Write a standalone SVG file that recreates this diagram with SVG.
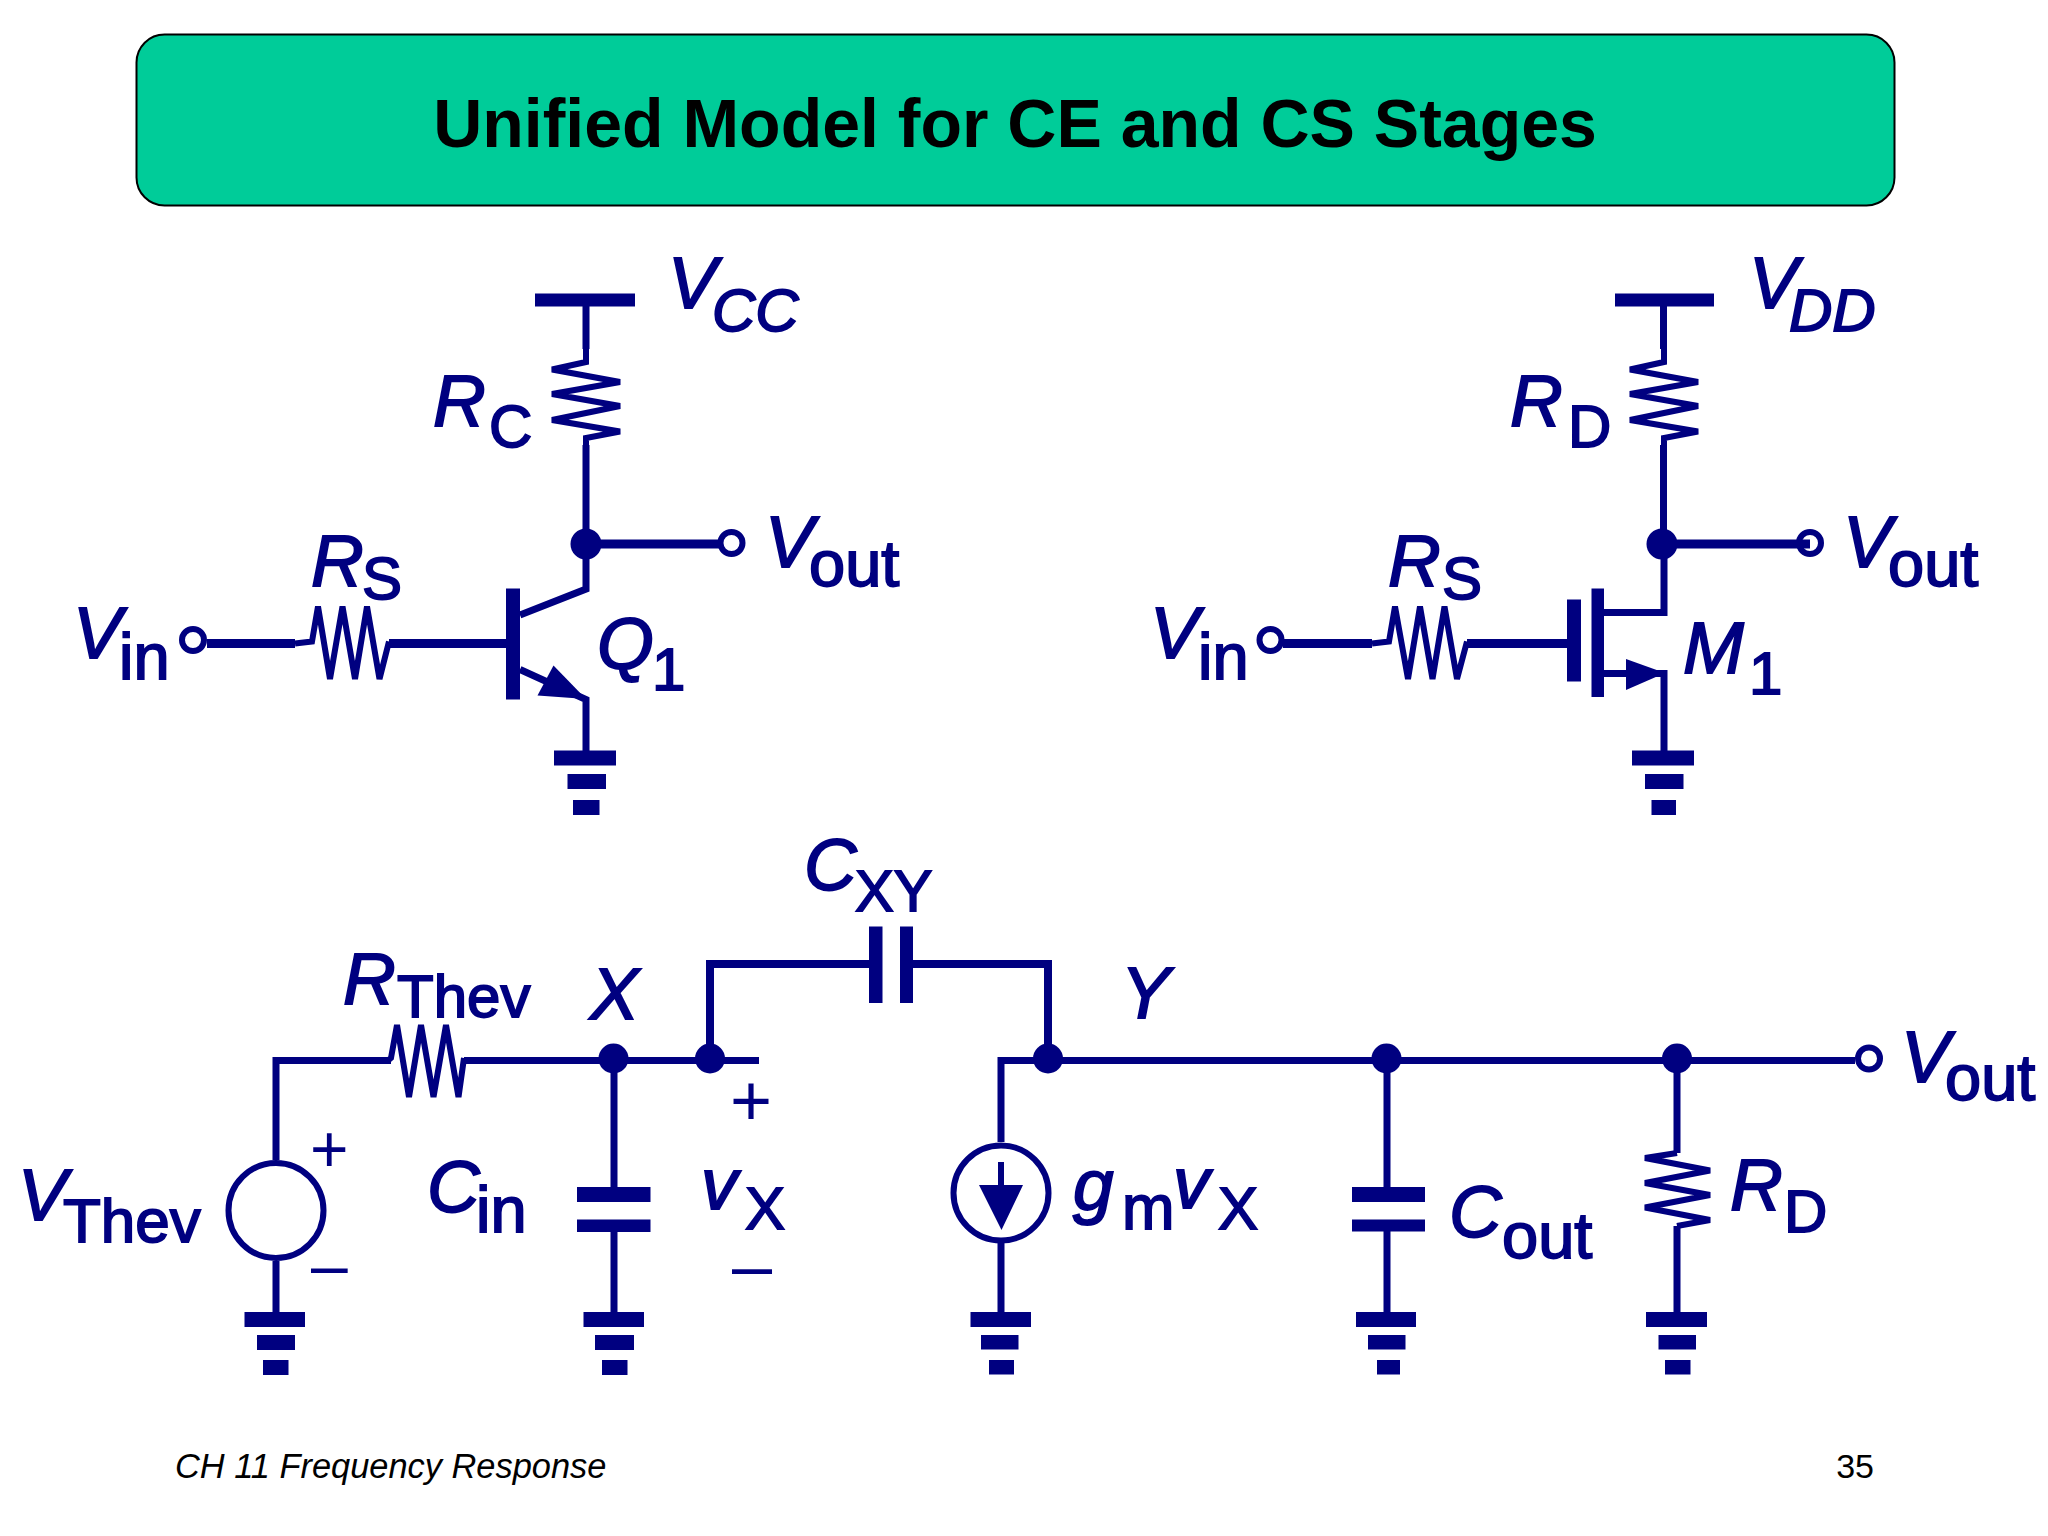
<svg xmlns="http://www.w3.org/2000/svg" width="2048" height="1536" viewBox="0 0 2048 1536">
<style>
.w{fill:none;stroke:#000080;stroke-width:7;stroke-linejoin:miter}
.t{stroke-width:9}
.b{stroke-width:8}
.r{fill:none;stroke:#000080;stroke-width:6;stroke-linejoin:miter}
.f{fill:#000080;stroke:none}
.o{fill:#fff;stroke:#000080;stroke-width:6}
text{font-family:"Liberation Sans",Arial,sans-serif}
.l{fill:#000080;stroke:#000080;stroke-width:1.800;font-size:73px;font-style:italic}
.s{font-style:normal;font-size:60px}
.lc{font-style:normal;font-size:65px}
.i{font-size:60px}
.sg{fill:#000080;font-size:66px}
</style>
<rect width="2048" height="1536" fill="#fff"/>
<g id="title"><rect x="136.500" y="34.500" width="1758" height="171" rx="28" fill="#00CC99" stroke="#000" stroke-width="2"/>
<text x="1015" y="147" text-anchor="middle" font-size="68" font-weight="700" fill="#000">Unified Model for CE and CS Stages</text></g>

<g id="connectors">
<!-- CE stage -->
<path class="w" d="M586 306V349M586 445V544M586 544V589L520 615M520 669.500L586 699.500V751"/>
<path class="w t" d="M586 544H720M207 643.500H295M389 643.500H507"/>
<!-- CS stage -->
<path class="w" d="M1663.500 306V349M1663.500 445V544M1664 544V612.500H1604M1604 673.500H1664V751"/>
<path class="w t" d="M1662 544H1806M1283 643.500H1372M1467 643.500H1567"/>
<!-- model -->
<path class="w" d="M276 1160V1060.500H391M464 1060.500H759M276 1261V1312M614 1060V1187M614 1232V1312M1001 1142V1060.500H1048M1001 1243V1312M1387 1060V1187M1387 1231V1312M1677 1060V1153M1677 1226V1312M1048 1060.500H1855"/>
<path class="w b" d="M710 1060V964H870M913 964H1048V1060"/>
</g>

<g id="vcc"><rect class="f" x="535" y="293.500" width="100" height="13"/><text class="l"><tspan x="668" y="308">V</tspan><tspan class="i" x="712" y="331">CC</tspan></text></g>
<g id="rc"><path class="r" d="M586 349V362L552 369.500L620 382L552 394L620 406L552 420L620 431.500L586 438V445"/><text class="l"><tspan x="433" y="425.500">R</tspan><tspan class="s" x="489" y="447">C</tspan></text></g>
<g id="node-ce"><circle class="f" cx="586" cy="544" r="15.500"/></g>
<g id="vout-ce"><circle class="o" cx="731.500" cy="543" r="11"/><text class="l"><tspan x="765" y="567">V</tspan><tspan class="lc" x="809" y="585.500">out</tspan></text></g>
<g id="vin-ce"><circle class="o" cx="193" cy="640" r="11"/><text class="l"><tspan x="73" y="658">V</tspan><tspan class="lc" x="119" y="679">in</tspan></text></g>
<g id="rs-ce"><path class="r" d="M295 643.500L312 641.500L318 606.500L330 679L342.500 606.500L355 679L367 606.500L379.500 679L389 641.500"/><text class="l"><tspan x="311" y="585.500">R</tspan><tspan class="s" x="362" y="598.500">S</tspan></text></g>
<g id="q1"><rect class="f" x="506" y="588.500" width="14" height="111"/><path class="f" d="M586 699L553.500 665.500L537.500 695.500Z"/><text class="l"><tspan x="597" y="668.500">Q</tspan><tspan class="s" x="652" y="690">1</tspan></text></g>
<g id="gnd-ce"><rect class="f" x="554" y="750.500" width="62" height="15"/><rect class="f" x="567.500" y="774" width="38.500" height="15"/><rect class="f" x="573" y="800" width="26.500" height="15"/></g>

<g id="vdd"><rect class="f" x="1615" y="293.500" width="99" height="13"/><text class="l"><tspan x="1749" y="308">V</tspan><tspan class="i" x="1789" y="331">DD</tspan></text></g>
<g id="rd-top"><path class="r" d="M1664 349V362L1630 369.500L1698 382L1630 394L1698 406L1630 420L1698 431.500L1664 438V445"/><text class="l"><tspan x="1510" y="425.500">R</tspan><tspan class="s" x="1568" y="447">D</tspan></text></g>
<g id="node-cs"><circle class="f" cx="1662" cy="544" r="15.500"/></g>
<g id="vout-cs"><circle class="o" cx="1810" cy="543" r="11"/><path class="f" d="M1800 539.500H1810V548.500H1800Z"/><text class="l"><tspan x="1843" y="567">V</tspan><tspan class="lc" x="1888" y="585.500">out</tspan></text></g>
<g id="vin-cs"><circle class="o" cx="1270.500" cy="640" r="11"/><text class="l"><tspan x="1150" y="658">V</tspan><tspan class="lc" x="1198" y="679">in</tspan></text></g>
<g id="rs-cs"><path class="r" d="M1372 643.500L1389 641.500L1395 606.500L1408 679L1420 606.500L1432.500 679L1444.500 606.500L1457 679L1467 641.500"/><text class="l"><tspan x="1388" y="585.500">R</tspan><tspan class="s" x="1442" y="598.500">S</tspan></text></g>
<g id="m1"><rect class="f" x="1567" y="599.500" width="14" height="82"/><rect class="f" x="1591.500" y="588.500" width="12.500" height="108.500"/><path class="f" d="M1665 673L1626 659V690Z"/><text class="l"><tspan x="1683" y="672.500">M</tspan><tspan class="s" x="1749" y="694">1</tspan></text></g>
<g id="gnd-cs"><rect class="f" x="1632" y="750.500" width="62" height="15"/><rect class="f" x="1645" y="774" width="38.500" height="15"/><rect class="f" x="1651.500" y="800" width="24.500" height="15"/></g>

<g id="vthev"><circle cx="276" cy="1210.500" r="47.500" fill="#fff" stroke="#000080" stroke-width="6"/><text class="l"><tspan x="18" y="1220">V</tspan><tspan class="s" x="63" y="1241.500" style="font-size:62px">Thev</tspan></text><text class="sg" x="310" y="1172">+</text><text class="sg" x="311" y="1288">–</text></g>
<g id="gnd-1"><rect class="f" x="244.500" y="1312" width="60.500" height="15"/><rect class="f" x="257" y="1335" width="38" height="15"/><rect class="f" x="263" y="1360" width="25.500" height="15"/></g>
<g id="rthev"><path class="r" d="M342 1060.500H388L391 1058L397 1025L409 1097L421 1025L433.500 1097L446 1025L458.500 1097L464 1058"/><text class="l"><tspan x="343" y="1004">R</tspan><tspan class="s" x="397" y="1017">Thev</tspan></text></g>
<g id="node-x"><circle class="f" cx="613.500" cy="1058.500" r="15"/><text class="l" x="590" y="1018.500">X</text></g>
<g id="node-x2"><circle class="f" cx="710" cy="1058.500" r="15"/></g>
<g id="cin"><rect class="f" x="577" y="1187" width="73.500" height="15"/><rect class="f" x="577" y="1219.500" width="73.500" height="12.500"/><text class="l"><tspan x="427" y="1212">C</tspan><tspan class="lc" x="476" y="1231.500">in</tspan></text></g>
<g id="gnd-2"><rect class="f" x="583.500" y="1312" width="60.500" height="15"/><rect class="f" x="595" y="1335" width="39" height="15"/><rect class="f" x="602" y="1360" width="25.500" height="15"/></g>
<g id="vx"><text class="sg" x="730" y="1125" style="font-size:72px">+</text><text class="l"><tspan x="701" y="1208.500">v</tspan><tspan class="s" x="745" y="1229">X</tspan></text><text class="sg" x="732" y="1290" style="font-size:72px">–</text></g>
<g id="cxy"><rect class="f" x="869" y="926.500" width="13.500" height="76.500"/><rect class="f" x="900" y="926.500" width="13" height="76.500"/><text class="l"><tspan x="804" y="889.500">C</tspan><tspan class="s" x="855" y="911" style="font-size:58px">XY</tspan></text></g>
<g id="node-y"><circle class="f" cx="1048" cy="1058.500" r="15"/><text class="l" x="1121" y="1018">Y</text></g>
<g id="gm"><circle cx="1001" cy="1193" r="47.500" fill="#fff" stroke="#000080" stroke-width="6"/><path class="f" d="M998 1162H1004V1185H1023L1001.500 1230L979 1185H998Z"/><text class="l"><tspan x="1073" y="1210">g</tspan><tspan class="s" x="1122" y="1229" style="font-size:63px">m</tspan><tspan x="1173" y="1208">v</tspan><tspan class="s" x="1218" y="1229">X</tspan></text></g>
<g id="gnd-3"><rect class="f" x="970.500" y="1312" width="60.500" height="15"/><rect class="f" x="981" y="1335" width="37.500" height="14.500"/><rect class="f" x="989" y="1360" width="25" height="14.500"/></g>
<g id="node-c"><circle class="f" cx="1386.500" cy="1058.500" r="15"/></g>
<g id="cout"><rect class="f" x="1352" y="1187" width="73" height="15"/><rect class="f" x="1352" y="1219.500" width="73" height="12"/><text class="l"><tspan x="1449" y="1237">C</tspan><tspan class="lc" x="1502" y="1258">out</tspan></text></g>
<g id="gnd-4"><rect class="f" x="1356" y="1312" width="60" height="15"/><rect class="f" x="1368" y="1335" width="37.500" height="14.500"/><rect class="f" x="1377" y="1360" width="23" height="14.500"/></g>
<g id="node-r"><circle class="f" cx="1677" cy="1058.500" r="15"/></g>
<g id="rd"><path class="r" d="M1677 1153L1645 1158L1710 1170.500L1645 1183L1710 1195L1645 1207.500L1710 1220L1677 1226"/><text class="l"><tspan x="1730" y="1210">R</tspan><tspan class="s" x="1784" y="1231.500">D</tspan></text></g>
<g id="gnd-5"><rect class="f" x="1646" y="1312" width="61" height="15"/><rect class="f" x="1658.500" y="1335" width="37.500" height="14.500"/><rect class="f" x="1665" y="1360" width="25.500" height="14.500"/></g>
<g id="vout-model"><circle class="o" cx="1869" cy="1058.500" r="11"/><text class="l"><tspan x="1901" y="1081.500">V</tspan><tspan class="lc" x="1945" y="1100">out</tspan></text></g>

<text id="footer" x="175" y="1478" font-size="34.400" font-style="italic" fill="#000">CH 11 Frequency Response</text>
<text id="page" x="1874" y="1478" font-size="34" text-anchor="end" fill="#000">35</text>
</svg>
